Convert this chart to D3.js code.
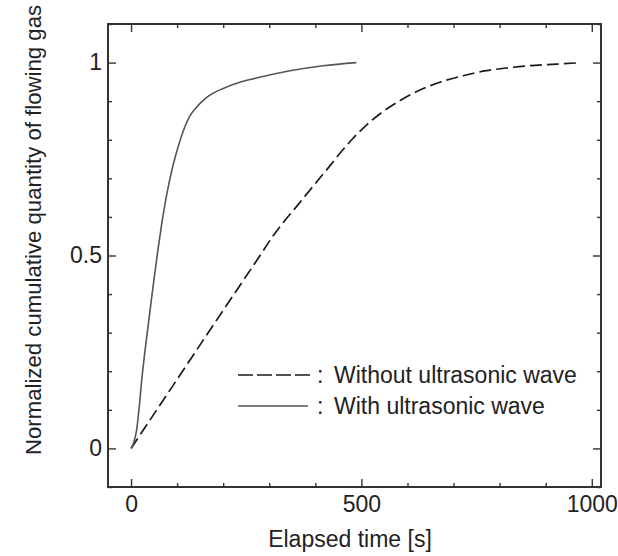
<!DOCTYPE html>
<html><head><meta charset="utf-8">
<script src="https://cdn.jsdelivr.net/npm/d3@7"></script>
<style>body{margin:0;background:#fff;} svg{display:block;} text{font-family:"Liberation Sans",Arial,sans-serif;fill:#222;}</style>
</head><body><svg id="c" width="618" height="556"></svg>
<script>
// Data
const withoutT = [0, 100, 200, 280, 309, 330, 360, 392, 432, 457, 482, 511, 548, 584, 627, 670, 721, 771, 815, 866, 924, 967];
const withoutV = [0, 0.179, 0.358, 0.50, 0.552, 0.585, 0.628, 0.675, 0.733, 0.770, 0.804, 0.838, 0.874, 0.902, 0.929, 0.949, 0.966, 0.979, 0.986, 0.992, 0.996, 0.999];
const withT = [0, 5, 12, 18, 23, 30, 41, 50, 59, 67, 77, 90, 103, 115, 126, 139, 152, 168, 200, 226, 272, 345, 417, 489];
const withV = [0, 0.012, 0.047, 0.11, 0.175, 0.25, 0.355, 0.44, 0.52, 0.585, 0.655, 0.728, 0.785, 0.828, 0.858, 0.880, 0.897, 0.913, 0.933, 0.945, 0.960, 0.979, 0.992, 1.0];
const xMajor = [0, 500, 1000];
const xMinor = [100, 200, 300, 400, 600, 700, 800, 900];
const yMajor = [0, 0.5, 1];
const yMinor = [-0.1, 0.1, 0.2, 0.3, 0.4, 0.6, 0.7, 0.8, 0.9, 1.1];
const yTickLabels = ["0", "0.5", "1"];
const legendLabels = ["Without ultrasonic wave", "With ultrasonic wave"];
const xTitle = "Elapsed time [s]";
const yTitle = "Normalized cumulative quantity of flowing gas";

const svg = d3.select("#c");
const L = 108, T = 24, W = 493, H = 463;
const x = d3.scaleLinear().domain([-50, 1020]).range([L, L + W]);
const y = d3.scaleLinear().domain([-0.1, 1.1]).range([T + H, T]);
const frame = "#333";
const FS = "23px";

const line = d3.line().x(d => x(d[0])).y(d => y(d[1])).curve(d3.curveMonotoneX);
const dWithout = withoutT.map((t, i) => [t, withoutV[i]]);
const dWith = withT.map((t, i) => [t, withV[i]]);

svg.append("path").attr("d", line(dWithout)).attr("fill", "none")
  .attr("stroke", "#1a1a1a").attr("stroke-width", 1.7).attr("stroke-dasharray", "12,5");
svg.append("path").attr("d", line(dWith)).attr("fill", "none")
  .attr("stroke", "#555").attr("stroke-width", 1.6);

// axes with inward ticks
const gB = svg.append("g").attr("transform", `translate(0,${T + H})`);
gB.call(d3.axisBottom(x).tickValues(xMajor).tickSizeInner(-8).tickSizeOuter(0).tickPadding(9).tickFormat(d3.format("d")));
gB.append("g").call(d3.axisBottom(x).tickValues(xMinor).tickSizeInner(-4).tickSizeOuter(0).tickFormat(""));
const gT = svg.append("g").attr("transform", `translate(0,${T})`);
gT.call(d3.axisTop(x).tickValues(xMajor).tickSizeInner(-8).tickSizeOuter(0).tickFormat(""));
gT.append("g").call(d3.axisTop(x).tickValues(xMinor).tickSizeInner(-4).tickSizeOuter(0).tickFormat(""));
const gL = svg.append("g").attr("transform", `translate(${L},0)`);
gL.call(d3.axisLeft(y).tickValues(yMajor).tickSizeInner(-8).tickSizeOuter(0).tickPadding(6).tickFormat((d, i) => yTickLabels[i]));
gL.append("g").call(d3.axisLeft(y).tickValues(yMinor).tickSizeInner(-4).tickSizeOuter(0).tickFormat(""));
const gR = svg.append("g").attr("transform", `translate(${L + W},0)`);
gR.call(d3.axisRight(y).tickValues(yMajor).tickSizeInner(-8).tickSizeOuter(0).tickFormat(""));
gR.append("g").call(d3.axisRight(y).tickValues(yMinor).tickSizeInner(-4).tickSizeOuter(0).tickFormat(""));

svg.selectAll(".domain").remove();
svg.selectAll(".tick line").attr("stroke", frame).attr("stroke-width", 1.4);
svg.selectAll(".tick text").style("font-size", FS).attr("fill", "#222")
  .style("font-family", "'Liberation Sans',Arial,sans-serif");

svg.append("rect").attr("x", L).attr("y", T).attr("width", W).attr("height", H)
  .attr("fill", "none").attr("stroke", frame).attr("stroke-width", 2);

// titles
svg.append("text").attr("x", 350).attr("y", 547).attr("text-anchor", "middle")
  .style("font-size", FS).text(xTitle);
svg.append("text").attr("transform", `translate(41,230) rotate(-90)`).attr("text-anchor", "middle")
  .style("font-size", "22.2px").text(yTitle);

// legend
const lg = svg.append("g");
const rows = [375, 406];
lg.append("line").attr("x1", 238).attr("x2", 310).attr("y1", rows[0]).attr("y2", rows[0])
  .attr("stroke", "#1a1a1a").attr("stroke-width", 1.5).attr("stroke-dasharray", "15,4");
lg.append("line").attr("x1", 238).attr("x2", 308).attr("y1", rows[1]).attr("y2", rows[1])
  .attr("stroke", "#555").attr("stroke-width", 1.5);
legendLabels.forEach((t, i) => {
  lg.append("text").attr("x", 317).attr("y", rows[i] + 8).style("font-size", FS).text(":");
  lg.append("text").attr("x", 334).attr("y", rows[i] + 8).style("font-size", FS).text(t);
});
</script></body></html>
